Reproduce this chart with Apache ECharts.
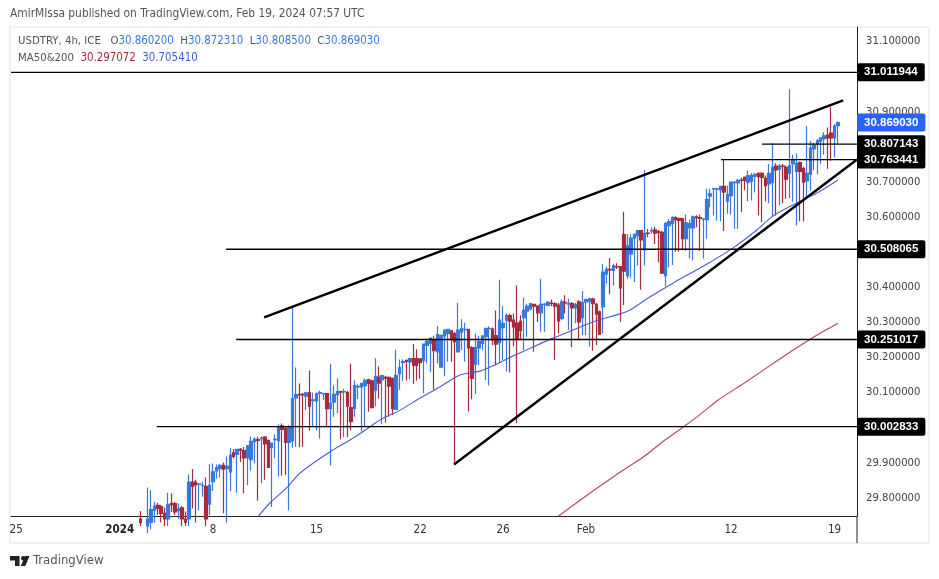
<!DOCTYPE html>
<html><head><meta charset="utf-8">
<style>html,body{margin:0;padding:0;background:#fff}#c{width:939px;height:579px}</style>
<script src="https://cdn.jsdelivr.net/npm/echarts@6/dist/echarts.min.js"></script>
</head><body><div id="c"></div>
<script>
// x tick labels and the bar index each belongs to
const tickIndex=[1,31,58,88,118,142,166,208,238];
const tickLabels=['25','2024','8','15','22','26','Feb','12','19'];
// y tick labels
const priceTicks=[31.1,30.9,30.7,30.6,30.4,30.3,30.2,30.1,29.9,29.8];
const firstBar=37, slots=245;
// 4h bars, rows of open, close, low, high
const barsA=[[29.74,29.73,29.72,29.763],[29.72,29.73,29.71,29.74],[29.72,29.74,29.70,29.830],[29.73,29.767,29.71,29.822],[29.765,29.777,29.73,29.789],[29.779,29.770,29.751,29.786],[29.775,29.756,29.73,29.780],[29.756,29.74,29.72,29.773],[29.74,29.782,29.72,29.815],[29.784,29.781,29.760,29.813],[29.784,29.760,29.751,29.789],[29.764,29.769,29.74,29.784],[29.772,29.74,29.72,29.777],[29.74,29.73,29.72,29.761],[29.74,29.845,29.72,29.867],[29.845,29.833,29.770,29.882],[29.845,29.837,29.73,29.852],[29.839,29.840,29.765,29.841],[29.835,29.836,29.803,29.846],[29.833,29.74,29.72,29.858],[29.782,29.836,29.751,29.896],[29.846,29.874,29.820,29.898],[29.877,29.886,29.855,29.895],[29.883,29.893,29.858,29.896],[29.893,29.882,29.756,29.901],[29.883,29.890,29.73,29.918],[29.874,29.921,29.820,29.942],[29.928,29.918,29.912,29.939],[29.924,29.938,29.815,29.940],[29.938,29.936,29.902,29.942],[29.935,29.914,29.813,29.945],[29.915,29.948,29.836,29.951],[29.909,29.961,29.877,29.975],[29.960,29.967,29.898,29.973],[29.966,29.964,29.792,29.975]];
const barsB=[[29.969,29.970,29.842,29.975],[29.973,29.954,29.852,29.976],[29.963,29.887,29.885,29.967],[29.943,29.956,29.774,29.958],[29.966,29.967,29.913,29.981],[29.963,30.003,29.861,30.010],[30.005,29.995,29.863,30.012],[29.998,29.958,29.866,30.005],[29.958,30.003,29.765,30.007],[29.963,30.082,29.943,30.343],[30.085,30.094,29.946,30.171],[30.095,30.093,29.944,30.126],[30.095,30.093,29.946,30.099],[30.090,30.099,30.050,30.102],[30.100,30.061,29.992,30.163],[30.077,30.079,30.003,30.100],[30.076,30.097,29.992,30.100],[30.098,30.100,29.969,30.105],[30.096,30.097,30.078,30.099],[30.097,30.054,30.001,30.099],[30.054,30.069,29.892,30.182],[30.073,30.095,30.031,30.121],[30.094,30.103,30.041,30.140],[30.103,30.101,29.967,30.105],[30.102,30.103,29.973,30.111],[30.100,30.061,29.973,30.105],[30.057,30.017,29.993,30.182],[30.055,30.120,30.031,30.135],[30.116,30.118,30.082,30.124],[30.116,30.126,29.989,30.128],[30.120,30.135,30.003,30.140],[30.137,30.126,30.045,30.139],[30.133,30.057,30.055,30.137],[30.107,30.146,30.061,30.198],[30.144,30.127,30.083,30.175],[30.137,30.148,30.010,30.149],[30.143,30.141,30.014,30.148],[30.143,30.118,30.031,30.146],[30.140,30.054,30.036,30.143],[30.052,30.149,30.052,30.222],[30.154,30.171,30.107,30.194],[30.186,30.188,30.133,30.194]];
const barsC=[[30.191,30.189,30.134,30.195],[30.187,30.197,30.138,30.200],[30.197,30.178,30.125,30.238],[30.197,30.177,30.134,30.223],[30.196,30.185,30.139,30.197],[30.191,30.238,30.098,30.240],[30.234,30.246,30.183,30.249],[30.240,30.255,30.158,30.257],[30.251,30.219,30.108,30.262],[30.216,30.265,30.183,30.289],[30.172,30.263,30.171,30.265],[30.261,30.278,30.147,30.280],[30.268,30.280,30.188,30.281],[30.276,30.251,30.188,30.278],[30.268,30.245,29.895,30.273],[30.216,30.278,30.216,30.356],[30.272,30.282,30.221,30.309],[30.279,30.280,30.188,30.299],[30.280,30.227,30.046,30.282],[30.228,30.141,30.081,30.232],[30.181,30.228,30.096,30.268],[30.227,30.245,30.178,30.262],[30.240,30.261,30.221,30.264],[30.259,30.282,30.136,30.285],[30.282,30.283,30.120,30.289],[30.281,30.249,30.235,30.285],[30.262,30.238,30.178,30.334],[30.242,30.306,30.188,30.421],[30.285,30.297,30.193,30.346],[30.306,30.320,30.160,30.325],[30.319,30.303,30.157,30.325],[30.306,30.287,30.232,30.325],[30.298,30.251,30.013,30.405],[30.303,30.276,30.249,30.320],[30.313,30.334,30.221,30.370],[30.332,30.346,30.259,30.353],[30.338,30.353,30.334,30.355],[30.351,30.346,30.216,30.353],[30.346,30.327,30.301,30.349]];
const barsD=[[30.327,30.351,30.273,30.424],[30.351,30.352,30.273,30.355],[30.348,30.357,30.346,30.361],[30.355,30.354,30.346,30.365],[30.353,30.346,30.193,30.357],[30.349,30.304,30.268,30.355],[30.311,30.358,30.306,30.365],[30.357,30.355,30.325,30.377],[30.352,30.353,30.278,30.367],[30.353,30.341,30.229,30.358],[30.341,30.350,30.297,30.355],[30.358,30.301,30.249,30.363],[30.313,30.356,30.264,30.389],[30.358,30.365,30.264,30.367],[30.360,30.367,30.231,30.370],[30.366,30.353,30.219,30.370],[30.351,30.323,30.235,30.355],[30.330,30.266,30.264,30.334],[30.344,30.443,30.268,30.467],[30.438,30.451,30.410,30.459],[30.451,30.449,30.380,30.483],[30.448,30.461,30.405,30.467],[30.459,30.458,30.452,30.468],[30.459,30.398,30.301,30.459],[30.550,30.446,30.349,30.615],[30.433,30.518,30.424,30.551],[30.495,30.540,30.427,30.551],[30.540,30.551,30.415,30.553],[30.547,30.561,30.462,30.563],[30.561,30.535,30.393,30.563],[30.506,30.553,30.462,30.734],[30.554,30.553,30.542,30.566],[30.560,30.561,30.553,30.570],[30.563,30.554,30.523,30.572],[30.558,30.556,30.471,30.563],[30.556,30.440,30.440,30.561],[30.433,30.582,30.402,30.585],[30.575,30.587,30.457,30.594],[30.581,30.598,30.463,30.602]];
const barsE=[[30.598,30.592,30.501,30.602],[30.596,30.590,30.501,30.598],[30.595,30.538,30.505,30.595],[30.538,30.583,30.503,30.607],[30.569,30.581,30.482,30.592],[30.569,30.600,30.477,30.604],[30.600,30.598,30.571,30.605],[30.598,30.596,30.503,30.607],[30.593,30.594,30.482,30.597],[30.592,30.650,30.538,30.680],[30.659,30.666,30.628,30.680],[30.680,30.681,30.604,30.683],[30.679,30.680,30.590,30.683],[30.677,30.687,30.588,30.689],[30.687,30.671,30.560,30.762],[30.645,30.664,30.609,30.689],[30.661,30.699,30.607,30.701],[30.698,30.699,30.566,30.702],[30.697,30.704,30.566,30.708],[30.705,30.704,30.614,30.711],[30.713,30.704,30.677,30.715],[30.699,30.718,30.645,30.732],[30.702,30.718,30.647,30.725],[30.716,30.722,30.670,30.724],[30.724,30.715,30.604,30.727],[30.724,30.713,30.586,30.727],[30.710,30.689,30.645,30.718],[30.694,30.724,30.639,30.751],[30.698,30.741,30.600,30.810],[30.745,30.734,30.604,30.753],[30.736,30.745,30.633,30.751],[30.745,30.744,30.639,30.751],[30.741,30.708,30.652,30.746],[30.725,30.746,30.654,30.964],[30.751,30.762,30.643,30.777],[30.730,30.753,30.576,30.781],[30.755,30.730,30.588,30.758],[30.738,30.699,30.588,30.743],[30.703,30.724,30.652,30.859],[30.722,30.796,30.675,30.817],[30.794,30.803,30.733,30.811],[30.808,30.817,30.721,30.822],[30.815,30.825,30.751,30.827],[30.822,30.831,30.777,30.841],[30.833,30.825,30.737,30.855],[30.839,30.825,30.760,30.913],[30.825,30.859,30.770,30.864],[30.8602,30.86903,30.8085,30.87231]];
// moving averages sampled along their curves: bar position, value
const ma50Points=[[71,29.7465],[74.5,29.7855],[79.3,29.8283],[83.2,29.871],[91.9,29.9316],[97.7,29.965],[101.4,29.9886],[106.4,30.022],[112.2,30.05],[118,30.0845],[123.7,30.116],[129.5,30.15],[135.3,30.161],[140.2,30.181],[144.9,30.204],[150.7,30.23],[156.5,30.255],[162.3,30.278],[168,30.301],[175.9,30.324],[178.8,30.335],[184,30.369],[191.8,30.415],[201.1,30.466],[208.6,30.512],[215.5,30.563],[220.2,30.603],[227.1,30.64],[232.9,30.668],[239,30.70541]];
const ma200Points=[[157.8,29.7465],[165.7,29.8035],[174.4,29.8632],[183.1,29.9202],[188.9,29.9649],[194.7,30.0056],[199.5,30.0409],[204.3,30.0788],[212,30.1281],[221.7,30.1927],[231.4,30.2545],[239,30.297072]];
// drawn levels: start bar position, price
const levels=[[-0.5,31.011944],[217,30.807143],[205.1,30.763441],[61.8,30.508065],[64.7,30.251017],[41.7,30.002833]];
const upperTrend=[[72.8,30.314],[240.5,30.932]];
const lowerTrend=[[127.8,29.895],[244.5,30.763441]];
const lastPrice=30.86903;
const ohlcText=['30.860200','30.872310','30.808500','30.869030'];
const maText=['30.297072','30.705410'];

const UP='#3a78dc',DOWN='#a62c3c',MA50='#4a5fc8',MA200='#b0485c';
const FONT='"DejaVu Sans Condensed","DejaVu Sans",sans-serif';
const TAGFONT='"Liberation Sans",Arial,sans-serif';
const rows=[].concat(barsA,barsB,barsC,barsD,barsE);
const candle=[];
for(let i=0;i<slots;i++){const r=rows[i-firstBar];candle.push(r||'-');}
const categories=[];
for(let i=0;i<slots;i++){const t=tickIndex.indexOf(i);categories.push(t<0?'':tickLabels[t]);}

const end=244.5;
const tagStyle={show:true,distance:0,color:'#fff',fontFamily:TAGFONT,fontWeight:'bold',fontSize:11.5,padding:[3,7,3,7],borderRadius:2};
const levelSeries=levels.map(l=>({type:'line',xAxisIndex:1,yAxisIndex:0,data:[[l[0],l[1]],[end,l[1]]],showSymbol:false,symbol:'none',silent:true,z:5,
 lineStyle:{color:'#000',width:1.3},
 endLabel:{...tagStyle,formatter:()=>l[1].toFixed(6),backgroundColor:'#000'}}));
const option={animation:false,backgroundColor:'#fff',
 grid:{left:11,right:82,top:27,bottom:63,containLabel:false},
 xAxis:[{type:'category',data:categories,boundaryGap:true,axisTick:{show:false},splitLine:{show:false},
   axisLine:{lineStyle:{color:'#222',width:1}},
   axisLabel:{interval:0,margin:8,color:'#333',fontFamily:FONT,fontSize:11.5,hideOverlap:false,
     formatter:v=>v==='2024'?'{b|2024}':v,rich:{b:{fontWeight:'bold',color:'#222',fontSize:11.5,fontFamily:FONT}}}},
  {type:'value',show:false,min:-0.5,max:244.5,splitLine:{show:false}}],
 yAxis:[{type:'value',position:'right',min:29.7485,max:31.1409,scale:true,splitLine:{show:false},
   axisLine:{show:true,onZero:false,lineStyle:{color:'#222',width:1}},axisTick:{show:false,customValues:priceTicks},
   axisLabel:{customValues:priceTicks,formatter:v=>v.toFixed(6),color:'#444',fontFamily:FONT,fontSize:11.2,margin:9,showMinLabel:true,showMaxLabel:true}}],
 series:[
  {type:'candlestick',data:candle,barWidth:3,clip:true,z:2,itemStyle:{color:UP,color0:DOWN,borderColor:UP,borderColor0:DOWN,borderWidth:1.2}},
  {type:'line',xAxisIndex:1,data:ma50Points,showSymbol:false,symbol:'none',clip:true,smooth:0.25,z:3,lineStyle:{color:MA50,width:1.1}},
  {type:'line',xAxisIndex:1,data:ma200Points,showSymbol:false,symbol:'none',clip:true,smooth:0.25,z:3,lineStyle:{color:MA200,width:1.1}},
  ...levelSeries,
  {type:'line',xAxisIndex:1,data:upperTrend,showSymbol:false,symbol:'none',z:6,lineStyle:{color:'#000',width:2.4}},
  {type:'line',xAxisIndex:1,data:lowerTrend,showSymbol:false,symbol:'none',z:6,lineStyle:{color:'#000',width:2.4}},
  {type:'line',xAxisIndex:1,data:[[239,lastPrice],[end,lastPrice]],showSymbol:false,symbol:'none',z:7,lineStyle:{opacity:0,width:0},
   endLabel:{...tagStyle,formatter:()=>lastPrice.toFixed(6),backgroundColor:'#2962ff'}}
 ],
 graphic:[
  {type:'rect',z:-1,silent:true,shape:{x:10,y:27,width:919,height:516},style:{fill:'none',stroke:'#f0f0f0',lineWidth:2}},
  {type:'line',silent:true,shape:{x1:857,y1:516,x2:857,y2:543},style:{stroke:'#222',lineWidth:1}},
  {type:'text',left:10,top:8,style:{text:'AmirMIssa published on TradingView.com, Feb 19, 2024 07:57 UTC',fill:'#555',font:'11.85px '+FONT}},
  {type:'text',left:18,top:36,style:{fontFamily:FONT,fontSize:11.3,fill:'#555',
    text:`USDTRY, 4h, ICE   O{v|${ohlcText[0]}}  H{v|${ohlcText[1]}}  L{v|${ohlcText[2]}}  C{v|${ohlcText[3]}}`,
    rich:{v:{fill:UP,fontFamily:FONT,fontSize:11.4}}}},
  {type:'text',left:18,top:53,style:{fontFamily:FONT,fontSize:11.3,fill:'#555',
    text:`MA50&200  {r|${maText[0]}}  {b|${maText[1]}}`,
    rich:{r:{fill:DOWN,fontFamily:FONT,fontSize:11.4},b:{fill:'#3a5fc8',fontFamily:FONT,fontSize:11.4}}}},
  {type:'polygon',silent:true,shape:{points:[[10,556],[19.5,556],[19.5,566],[15,566],[15,560.6],[10,560.6]]},style:{fill:'#222'}},
  {type:'circle',silent:true,shape:{cx:23.2,cy:558.2,r:2.2},style:{fill:'#222'}},
  {type:'polygon',silent:true,shape:{points:[[29.5,556],[25.3,566],[20.8,566],[25,556]]},style:{fill:'#222'}},
  {type:'text',left:33,top:554,style:{text:'TradingView',fill:'#555',font:'13px '+FONT}}
 ]};
const chart=echarts.init(document.getElementById('c'),null,{renderer:'canvas'});
chart.setOption(option);
</script></body></html>
